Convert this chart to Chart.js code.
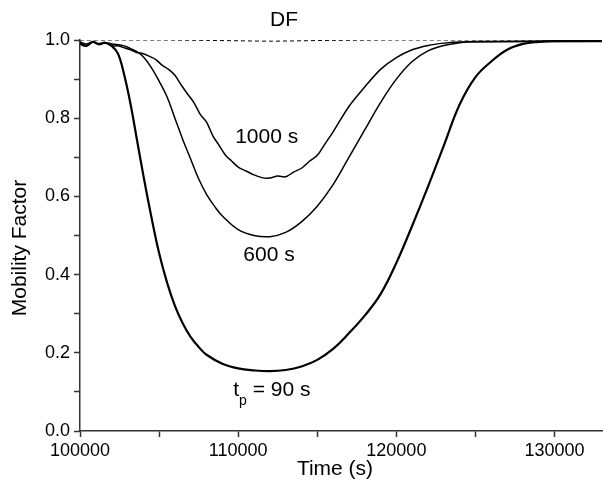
<!DOCTYPE html>
<html>
<head>
<meta charset="utf-8">
<script src="https://cdn.jsdelivr.net/npm/chart.js@4/dist/chart.umd.min.js"></script>
<style>
  body { margin: 0; background: #fff; }
  canvas { display: block; }
</style>
</head>
<body>
<canvas id="mobChart" width="603" height="481"></canvas>
<script>
// Dados (tempo em s, fator de mobilidade)
const t90 = [100000, 100400, 100800, 101200, 101600, 102000, 102400, 102800, 103200, 103600,
  104000, 104500, 105000, 105500, 106000, 106500, 107000, 107500, 108000, 109000,
  110000, 111000, 112000, 113000, 114000, 115000, 116000, 117000, 118000, 119000,
  120000, 121000, 122000, 123000, 124000, 125000, 126000, 127000, 128000, 129000, 130000, 133000];
const v90 = [0.99, 0.985, 0.995, 0.99, 0.993, 0.985, 0.965, 0.91, 0.835, 0.745,
  0.655, 0.55, 0.455, 0.38, 0.32, 0.275, 0.24, 0.215, 0.195, 0.172,
  0.16, 0.155, 0.153, 0.156, 0.165, 0.182, 0.21, 0.25, 0.295, 0.35,
  0.43, 0.525, 0.625, 0.73, 0.835, 0.905, 0.945, 0.975, 0.99, 0.995, 0.997, 0.997];

const t600 = [100000, 100400, 100800, 101200, 101600, 102000, 102400, 102800, 103200, 103600,
  104000, 104500, 105000, 105500, 106000, 106500, 107000, 107500, 108000, 108500,
  109000, 110000, 111000, 112000, 113000, 114000, 115000, 116000, 117000, 118000,
  119000, 120000, 121000, 122000, 123000, 124000, 125000, 133000];
const v600 = [0.995, 0.99, 0.995, 0.99, 0.993, 0.99, 0.988, 0.985, 0.978, 0.97,
  0.957, 0.93, 0.895, 0.855, 0.8, 0.745, 0.695, 0.645, 0.605, 0.575,
  0.55, 0.515, 0.5, 0.497, 0.508, 0.535, 0.575, 0.63, 0.7, 0.77,
  0.84, 0.9, 0.945, 0.972, 0.986, 0.993, 0.996, 0.997];

const t1000 = [100000, 100400, 100800, 101200, 101600, 102000, 102400, 102800, 103200, 103600,
  104000, 104400, 104800, 105200, 105600, 106000, 106400, 106800, 107200, 107600,
  108000, 108400, 108800, 109200, 109600, 110000, 110500, 111000, 111500, 112000,
  112500, 113000, 113500, 114000, 114500, 115000, 115500, 116000, 117000, 118000,
  119000, 120000, 121000, 122000, 123000, 124000, 133000];
const v1000 = [0.995, 0.985, 0.995, 0.988, 0.993, 0.985, 0.985, 0.98, 0.975, 0.968,
  0.965, 0.958, 0.95, 0.935, 0.925, 0.91, 0.885, 0.862, 0.84, 0.81,
  0.79, 0.755, 0.73, 0.705, 0.69, 0.675, 0.665, 0.655, 0.648, 0.647,
  0.652, 0.65, 0.662, 0.672, 0.69, 0.705, 0.735, 0.765, 0.83, 0.88,
  0.925, 0.955, 0.975, 0.986, 0.992, 0.995, 0.997];

const tDF = [100000, 105000, 108000, 110000, 112000, 114000, 116000, 120000, 133000];
const vDF = [1.0, 1.0, 0.999, 0.998, 0.997, 0.998, 0.999, 1.0, 1.0];

// Marcas dos eixos
const xTicks = [100000, 105000, 110000, 115000, 120000, 125000, 130000];
const yTicks = [0, 0.1, 0.2, 0.3, 0.4, 0.5, 0.6, 0.7, 0.8, 0.9, 1.0];

// Rótulos das curvas (posição em unidades dos eixos)
const labelText = ['DF', '1000 s', '600 s'];
const labelT = [112900, 111800, 111950];
const labelV = [1.05, 0.751, 0.45];

const FONT = '"Liberation Sans", Arial, Helvetica, sans-serif';

function pts(ts, vs) {
  return ts.map((t, i) => ({ x: t, y: vs[i] }));
}

// Plugin simples para escrever os rótulos e títulos dos eixos
const curveLabels = {
  id: 'curveLabels',
  afterDatasetsDraw(chart) {
    const { ctx, scales } = chart;
    ctx.save();
    ctx.fillStyle = '#000';
    ctx.textBaseline = 'middle';
    ctx.textAlign = 'center';
    ctx.font = '21px ' + FONT;
    labelText.forEach((txt, i) => {
      ctx.fillText(txt, scales.x.getPixelForValue(labelT[i]), scales.y.getPixelForValue(labelV[i]));
    });

    // títulos dos eixos
    ctx.fillText('Time (s)', 335, 469);
    ctx.save();
    ctx.translate(20, 248);
    ctx.rotate(-Math.PI / 2);
    ctx.fillText('Mobility Factor', 0, 0);
    ctx.restore();

    // t_p = 90 s (com subscrito)
    const cx = scales.x.getPixelForValue(112130);
    const cy = scales.y.getPixelForValue(0.105);
    ctx.textAlign = 'left';
    const wT = ctx.measureText('t').width;
    const wRest = ctx.measureText(' = 90 s').width;
    ctx.font = '14px ' + FONT;
    const wP = ctx.measureText('p').width;
    let x = cx - (wT + wP + wRest) / 2;
    ctx.font = '21px ' + FONT;
    ctx.fillText('t', x, cy);
    x += wT;
    ctx.font = '14px ' + FONT;
    ctx.fillText('p', x, cy + 11);
    x += wP;
    ctx.font = '21px ' + FONT;
    ctx.fillText(' = 90 s', x, cy);
    ctx.restore();
  }
};

const data = {
  datasets: [
    {
      label: 'DF',
      data: pts(tDF, vDF),
      borderColor: '#000',
      borderWidth: 1,
      borderDash: [4, 3],
      pointRadius: 0,
      tension: 0.3
    },
    {
      label: '1000 s',
      data: pts(t1000, v1000),
      borderColor: '#000',
      borderWidth: 1.5,
      pointRadius: 0,
      tension: 0.3
    },
    {
      label: '600 s',
      data: pts(t600, v600),
      borderColor: '#000',
      borderWidth: 1.5,
      pointRadius: 0,
      tension: 0.4
    },
    {
      label: '90 s',
      data: pts(t90, v90),
      borderColor: '#000',
      borderWidth: 2.2,
      pointRadius: 0,
      tension: 0.4
    }
  ]
};

const config = {
  type: 'line',
  data: data,
  options: {
    responsive: false,
    animation: false,
    layout: { padding: { top: 40, right: 1, left: 0, bottom: 0 } },
    plugins: {
      legend: { display: false },
      tooltip: { enabled: false }
    },
    scales: {
      x: {
        type: 'linear',
        min: 100000,
        max: 133000,
        afterBuildTicks: (scale) => {
          scale.ticks = xTicks.map(v => ({ value: v }));
        },
        afterFit: (scale) => { scale.height = 50; },
        ticks: {
          autoSkip: false,
          maxRotation: 0,
          padding: 3,
          color: '#000',
          font: { family: FONT, size: 18 },
          callback: (v) => (v % 10000 === 0 ? String(v) : '')
        },
        grid: { drawOnChartArea: false, tickLength: 6, color: '#333', tickWidth: 1.5 },
        border: { color: '#333', width: 1.5 }
      },
      y: {
        min: 0,
        max: 1,
        afterBuildTicks: (scale) => {
          scale.ticks = yTicks.map(v => ({ value: v }));
        },
        afterFit: (scale) => { scale.width = 80; },
        ticks: {
          autoSkip: false,
          padding: 4,
          color: '#000',
          font: { family: FONT, size: 18 },
          callback: (v) => (Math.round(v * 10) % 2 === 0 ? v.toFixed(1) : '')
        },
        grid: { drawOnChartArea: false, tickLength: 6, color: '#333', tickWidth: 1.5 },
        border: { color: '#333', width: 1.5 }
      }
    }
  },
  plugins: [curveLabels]
};

const ctx = document.getElementById('mobChart').getContext('2d');
new Chart(ctx, config);
</script>
</body>
</html>
